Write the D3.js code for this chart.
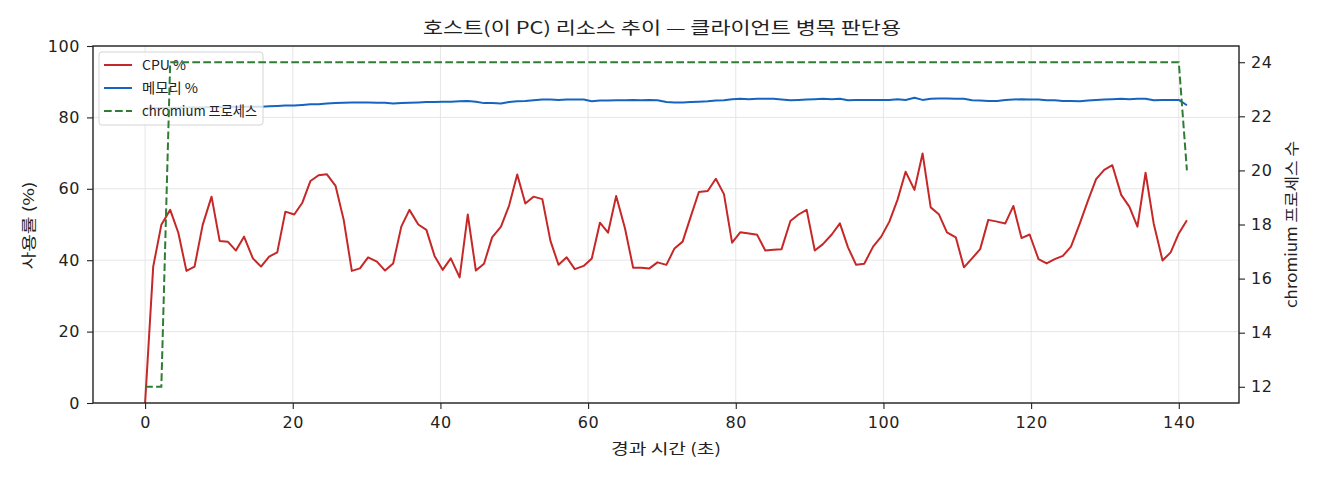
<!DOCTYPE html>
<html>
<head>
<meta charset="utf-8">
<script src="https://cdn.jsdelivr.net/npm/d3@7"></script>
<style>
  body { margin: 0; background: #fff; }
  text { font-family: "Noto Sans CJK KR", "Noto Sans", sans-serif; fill: #222; }
</style>
</head>
<body>
<div id="chart"></div>
<script>
// elapsed time of each sample (s)
var times = [0.0, 1.1, 2.2, 3.4, 4.5, 5.6, 6.7, 7.8, 9.0, 10.1, 11.2, 12.3, 13.4, 14.6, 15.7, 16.8, 17.9, 19.0, 20.2, 21.3,
  22.4, 23.5, 24.6, 25.8, 26.9, 28.0, 29.1, 30.2, 31.4, 32.5, 33.6, 34.7, 35.8, 37.0, 38.1, 39.2, 40.3, 41.4, 42.6, 43.7,
  44.8, 45.9, 47.0, 48.2, 49.3, 50.4, 51.5, 52.6, 53.8, 54.9, 56.0, 57.1, 58.2, 59.4, 60.5, 61.6, 62.7, 63.8, 65.0, 66.1,
  67.2, 68.3, 69.4, 70.6, 71.7, 72.8, 73.9, 75.0, 76.2, 77.3, 78.4, 79.5, 80.6, 81.8, 82.9, 84.0, 85.1, 86.2, 87.4, 88.5,
  89.6, 90.7, 91.8, 93.0, 94.1, 95.2, 96.3, 97.4, 98.6, 99.7, 100.8, 101.9, 103.0, 104.2, 105.3, 106.4, 107.5, 108.6, 109.8, 110.9,
  112.0, 113.1, 114.2, 115.4, 116.5, 117.6, 118.7, 119.8, 121.0, 122.1, 123.2, 124.3, 125.4, 126.6, 127.7, 128.8, 129.9, 131.0, 132.2, 133.3,
  134.4, 135.5, 136.6, 137.8, 138.9, 140.0, 141.1];

var cpu = [0, 38.2, 49.9, 54.1, 47.7, 37.0, 38.2, 49.9, 57.8, 45.4, 45.2, 42.7, 46.6, 40.5, 38.2, 41.0, 42.2, 53.6, 52.8, 56.1,
  62.2, 63.8, 64.1, 60.8, 51.3, 37.0, 37.7, 40.8, 39.6, 37.1, 39.1, 49.4, 54.1, 50.0, 48.5, 41.2, 37.3, 40.5, 35.2, 52.8,
  37.1, 39.0, 46.4, 49.4, 55.3, 64.0, 55.9, 57.8, 57.1, 45.4, 38.7, 40.8, 37.5, 38.4, 40.5, 50.5, 47.7, 58.0, 48.9, 37.9,
  37.9, 37.7, 39.4, 38.7, 43.3, 45.2, 52.2, 59.1, 59.4, 62.8, 58.5, 44.9, 47.8, 47.5, 47.1, 42.7, 42.9, 43.1, 51.0, 52.8,
  54.1, 42.7, 44.5, 47.2, 50.3, 43.6, 38.7, 39.0, 43.8, 46.6, 50.8, 56.9, 64.8, 59.7, 69.9, 54.8, 52.9, 47.8, 46.4, 38.0,
  40.5, 43.1, 51.3, 50.8, 50.3, 55.2, 46.2, 47.2, 40.3, 39.1, 40.3, 41.2, 43.8, 50.3, 56.7, 62.7, 65.3, 66.6, 58.3, 55.0,
  49.4, 64.5, 50.3, 39.9, 42.2, 47.5, 51.2];

var mem = [82.5, 82.6, 82.6, 82.7, 82.7, 82.8, 82.8, 82.8, 82.9, 82.9, 82.9, 83.0, 83.0, 83.0, 83.0, 83.1, 83.2, 83.3, 83.3, 83.5,
  83.7, 83.7, 83.9, 84.0, 84.1, 84.2, 84.2, 84.2, 84.1, 84.1, 83.9, 84.0, 84.1, 84.2, 84.3, 84.3, 84.4, 84.4, 84.5, 84.6,
  84.4, 84.0, 84.0, 83.9, 84.3, 84.5, 84.6, 84.8, 85.0, 85.0, 84.9, 85.0, 85.0, 85.0, 84.5, 84.7, 84.7, 84.8, 84.8, 84.9,
  84.8, 84.9, 84.8, 84.3, 84.2, 84.2, 84.3, 84.4, 84.5, 84.7, 84.8, 85.1, 85.2, 85.1, 85.2, 85.2, 85.2, 85.0, 84.8, 84.9,
  85.0, 85.1, 85.2, 85.1, 85.2, 84.8, 84.9, 84.9, 84.9, 84.9, 84.9, 85.1, 84.9, 85.5, 84.9, 85.2, 85.3, 85.3, 85.2, 85.2,
  84.8, 84.7, 84.6, 84.6, 84.9, 85.0, 85.1, 85.0, 85.0, 84.8, 84.8, 84.6, 84.6, 84.5, 84.7, 84.9, 85.0, 85.1, 85.2, 85.1,
  85.2, 85.2, 84.8, 84.9, 84.9, 84.9, 83.4];

var procs = [12, 12, 12, 24, 24, 24, 24, 24, 24, 24, 24, 24, 24, 24, 24, 24, 24, 24, 24, 24,
  24, 24, 24, 24, 24, 24, 24, 24, 24, 24, 24, 24, 24, 24, 24, 24, 24, 24, 24, 24,
  24, 24, 24, 24, 24, 24, 24, 24, 24, 24, 24, 24, 24, 24, 24, 24, 24, 24, 24, 24,
  24, 24, 24, 24, 24, 24, 24, 24, 24, 24, 24, 24, 24, 24, 24, 24, 24, 24, 24, 24,
  24, 24, 24, 24, 24, 24, 24, 24, 24, 24, 24, 24, 24, 24, 24, 24, 24, 24, 24, 24,
  24, 24, 24, 24, 24, 24, 24, 24, 24, 24, 24, 24, 24, 24, 24, 24, 24, 24, 24, 24,
  24, 24, 24, 24, 24, 24, 20];

var xTicks = [0, 20, 40, 60, 80, 100, 120, 140];
var yTicks = [0, 20, 40, 60, 80, 100];
var y2Ticks = [12, 14, 16, 18, 20, 22, 24];

var svgWidth = 1320;
var svgHeight = 480;
var margin = { top: 46, right: 81, bottom: 77, left: 93 };
var width = svgWidth - margin.left - margin.right;
var height = svgHeight - margin.top - margin.bottom;

var svg = d3.select("#chart").append("svg")
  .attr("width", svgWidth)
  .attr("height", svgHeight);

var chartGroup = svg.append("g")
  .attr("transform", `translate(${margin.left}, ${margin.top})`);

// matplotlib style 5% padding
var tMin = d3.min(times), tMax = d3.max(times);
var pad = (tMax - tMin) * 0.05;
var xScale = d3.scaleLinear().domain([tMin - pad, tMax + pad]).range([0, width]);
var yScale = d3.scaleLinear().domain([0, 100]).range([height, 0]);
var pMin = d3.min(procs), pMax = d3.max(procs);
var pPad = (pMax - pMin) * 0.05;
var y2Scale = d3.scaleLinear().domain([pMin - pPad, pMax + pPad]).range([height, 0]);

// grid
chartGroup.append("g").selectAll("line")
  .data(xTicks).enter().append("line")
  .attr("x1", d => xScale(d)).attr("x2", d => xScale(d))
  .attr("y1", 0).attr("y2", height)
  .attr("stroke", "#e3e3e3").attr("stroke-width", 0.9);
chartGroup.append("g").selectAll("line")
  .data(yTicks).enter().append("line")
  .attr("x1", 0).attr("x2", width)
  .attr("y1", d => yScale(d)).attr("y2", d => yScale(d))
  .attr("stroke", "#e3e3e3").attr("stroke-width", 0.9);

var idx = d3.range(times.length);
var dash = "7.7,3.3";

var cpuLine = d3.line().x(i => xScale(times[i])).y(i => yScale(cpu[i]));
var memLine = d3.line().x(i => xScale(times[i])).y(i => yScale(mem[i]));
var procLine = d3.line().x(i => xScale(times[i])).y(i => y2Scale(procs[i]));

chartGroup.append("path").datum(idx)
  .attr("d", cpuLine).attr("fill", "none")
  .attr("stroke", "#c62828").attr("stroke-width", 2).attr("stroke-linejoin", "round");
chartGroup.append("path").datum(idx)
  .attr("d", memLine).attr("fill", "none")
  .attr("stroke", "#1565c0").attr("stroke-width", 2).attr("stroke-linejoin", "round");

// legend (belongs to the left axes, so the right-axis line is drawn over it)
var legend = chartGroup.append("g").attr("transform", "translate(6, 6)");
legend.append("rect")
  .attr("width", 164).attr("height", 73).attr("rx", 3)
  .attr("fill", "#fff").attr("fill-opacity", 0.8)
  .attr("stroke", "#d4d4d4").attr("stroke-width", 1);
var legendItems = [
  { label: "CPU %", color: "#c62828", dash: null, len: 44 },
  { label: "메모리 %", color: "#1565c0", dash: null, len: 56 },
  { label: "chromium 프로세스", color: "#2e7d32", dash: dash, len: 115 }
];
legendItems.forEach(function(item, k) {
  var gy = 13 + k * 23;
  legend.append("line")
    .attr("x1", 5).attr("x2", 33).attr("y1", gy).attr("y2", gy)
    .attr("stroke", item.color).attr("stroke-width", 2)
    .attr("stroke-dasharray", item.dash);
  legend.append("text")
    .attr("x", 43).attr("y", gy).attr("dy", "0.36em")
    .attr("font-size", "13.5px")
    .attr("textLength", item.len).attr("lengthAdjust", "spacingAndGlyphs")
    .text(item.label);
});

chartGroup.append("path").datum(idx)
  .attr("d", procLine).attr("fill", "none")
  .attr("stroke", "#2e7d32").attr("stroke-width", 2)
  .attr("stroke-dasharray", dash);

// axes
var bottomAxis = d3.axisBottom(xScale).tickValues(xTicks).tickSize(6).tickPadding(8);
var leftAxis = d3.axisLeft(yScale).tickValues(yTicks).tickSize(6).tickPadding(7);
var rightAxis = d3.axisRight(y2Scale).tickValues(y2Ticks).tickSize(6).tickPadding(6);

var xAxis = chartGroup.append("g")
  .attr("transform", `translate(0, ${height})`)
  .call(bottomAxis);
var yAxis = chartGroup.append("g").call(leftAxis);
var y2Axis = chartGroup.append("g")
  .attr("transform", `translate(${width}, 0)`)
  .call(rightAxis);

[xAxis, yAxis, y2Axis].forEach(function(a) {
  a.select(".domain").remove();
  a.selectAll("text").attr("font-size", "16px").attr("fill", "#222")
    .attr("letter-spacing", "0.6px")
    .style("font-family", '"DejaVu Sans", sans-serif');
  a.selectAll("line").attr("stroke", "#222").attr("stroke-width", 1.1);
});

// frame
chartGroup.append("rect")
  .attr("width", width).attr("height", height)
  .attr("fill", "none").attr("stroke", "#222").attr("stroke-width", 1.4);

// labels
svg.append("text")
  .attr("x", 662).attr("y", 34)
  .attr("text-anchor", "middle").attr("font-size", "17px")
  .attr("textLength", 478).attr("lengthAdjust", "spacingAndGlyphs")
  .text("호스트(이 PC) 리소스 추이 — 클라이언트 병목 판단용");

svg.append("text")
  .attr("x", margin.left + width / 2).attr("y", 454)
  .attr("text-anchor", "middle").attr("font-size", "15px")
  .attr("textLength", 110).attr("lengthAdjust", "spacingAndGlyphs")
  .text("경과 시간 (초)");

svg.append("text")
  .attr("transform", `translate(34, ${margin.top + height / 2 + 1}) rotate(-90)`)
  .attr("text-anchor", "middle").attr("font-size", "15px")
  .attr("textLength", 88).attr("lengthAdjust", "spacingAndGlyphs")
  .text("사용률 (%)");

svg.append("text")
  .attr("transform", `translate(1297, ${margin.top + height / 2}) rotate(-90)`)
  .attr("text-anchor", "middle").attr("font-size", "15px")
  .attr("textLength", 167).attr("lengthAdjust", "spacingAndGlyphs")
  .text("chromium 프로세스 수");
</script>
</body>
</html>
